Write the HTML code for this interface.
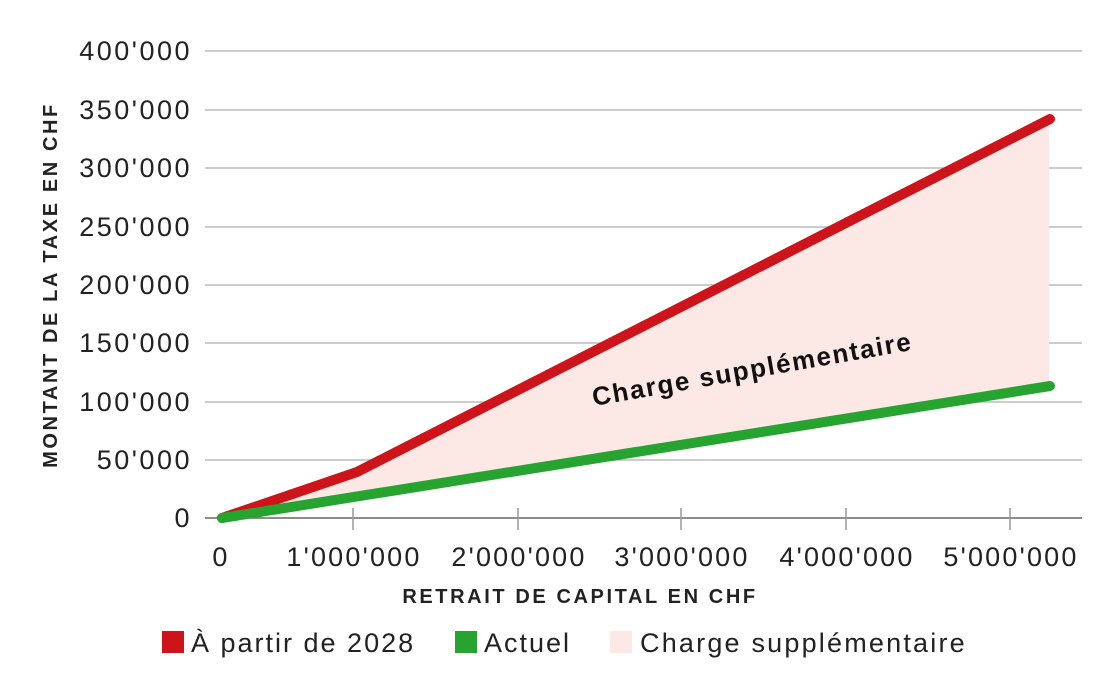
<!DOCTYPE html>
<html><head><meta charset="utf-8"><style>
body{margin:0;background:#fff;}
svg{display:block;font-family:"Liberation Sans",sans-serif;}
</style></head><body>
<svg width="1113" height="695" viewBox="0 0 1113 695">
<g stroke="#bcbcbc" stroke-width="1.5">
<line x1="205" x2="1082" y1="51" y2="51"/>
<line x1="205" x2="1082" y1="110" y2="110"/>
<line x1="205" x2="1082" y1="168" y2="168"/>
<line x1="205" x2="1082" y1="227" y2="227"/>
<line x1="205" x2="1082" y1="285" y2="285"/>
<line x1="205" x2="1082" y1="343" y2="343"/>
<line x1="205" x2="1082" y1="402" y2="402"/>
<line x1="205" x2="1082" y1="460" y2="460"/>
</g>
<polygon points="222,518 357,472 1049,119 1049,386" fill="#fce8e5"/>
<line x1="205" x2="1082" y1="518" y2="518" stroke="#666" stroke-width="1.5"/>
<g stroke="#999" stroke-width="1.5">
<line x1="353" x2="353" y1="508" y2="530"/>
<line x1="518" x2="518" y1="508" y2="530"/>
<line x1="681" x2="681" y1="508" y2="530"/>
<line x1="846" x2="846" y1="508" y2="530"/>
<line x1="1010" x2="1010" y1="508" y2="530"/>
</g>
<polyline points="222,518 357,472 1050,119" fill="none" stroke="#cc141a" stroke-width="10" stroke-linecap="round" stroke-linejoin="round"/>
<polyline points="222,518 1050,386" fill="none" stroke="#27a32f" stroke-width="10" stroke-linecap="round"/>
<text x="752" y="378" transform="rotate(-10 752 368)" text-anchor="middle" font-size="26" font-weight="bold" fill="#111" letter-spacing="1.7">Charge supplémentaire</text>
<g font-size="27" fill="#222" text-anchor="end" letter-spacing="2.5">
<text x="192" y="60">400'000</text>
<text x="192" y="119">350'000</text>
<text x="192" y="177">300'000</text>
<text x="192" y="236">250'000</text>
<text x="192" y="294">200'000</text>
<text x="192" y="352">150'000</text>
<text x="192" y="411">100'000</text>
<text x="192" y="469">50'000</text>
<text x="192" y="527">0</text>
</g>
<g font-size="27" fill="#222" text-anchor="middle" letter-spacing="2.2">
<text x="221" y="566">0</text>
<text x="354" y="566">1'000'000</text>
<text x="519" y="566">2'000'000</text>
<text x="682" y="566">3'000'000</text>
<text x="847" y="566">4'000'000</text>
<text x="1011" y="566">5'000'000</text>
</g>
<text x="580" y="603" text-anchor="middle" font-size="20" font-weight="bold" fill="#222" letter-spacing="2.6">RETRAIT DE CAPITAL EN CHF</text>
<text transform="translate(57,285) rotate(-90)" text-anchor="middle" font-size="20" font-weight="bold" fill="#222" letter-spacing="2.6">MONTANT DE LA TAXE EN CHF</text>
<rect x="162" y="631" width="22" height="22" fill="#cc141a"/>
<text x="191" y="652" font-size="27" fill="#222" letter-spacing="2">À partir de 2028</text>
<rect x="455" y="631" width="22" height="22" fill="#27a32f"/>
<text x="484" y="652" font-size="27" fill="#222" letter-spacing="2">Actuel</text>
<rect x="610" y="631" width="22" height="22" fill="#fce8e5"/>
<text x="640" y="652" font-size="27" fill="#222" letter-spacing="2.2">Charge supplémentaire</text>
</svg>
</body></html>
